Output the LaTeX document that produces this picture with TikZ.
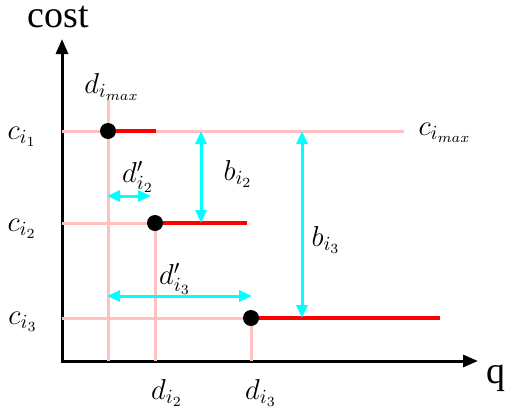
\documentclass[tikz,border=0pt]{standalone}
\usepackage{fontspec}
\newfontfamily\axisfont{Liberation Serif}
\usetikzlibrary{arrows.meta}
\definecolor{aqua}{RGB}{0,255,255}
\definecolor{guidepink}{RGB}{255,192,192}
\definecolor{stepred}{RGB}{255,0,0}

\begin{document}
\begin{tikzpicture}[
    x=0.5pt, y=-0.5pt,
    >={Triangle[length=6.5pt, width=5.5pt]},
    every node/.style={font=\Large}
]

\tikzset{
    axisline/.style={line width=1.5pt, <->, >={Triangle[length=7.5pt, width=6pt]}, line join=miter},
    guideline/.style={draw=guidepink, line width=1.5pt},
    stepline/.style={draw=stepred, line width=1.7pt},
    gaparrow/.style={draw=aqua, fill=aqua, line width=1.5pt, <->},
    breakdot/.style={circle, fill=black, inner sep=0pt, minimum size=8pt},
    axislabel/.style={font=\axisfont\fontsize{19}{22}\selectfont}
}

\useasboundingbox (0,0) rectangle (507,412);

% axes
\coordinate (origin) at (62,361);
\coordinate (ytip) at (62,39);
\coordinate (xtip) at (478,361);
\draw [axisline] (ytip) -- (origin) -- (xtip);
\node [axislabel] (costlbl) at (58,17) {cost};
\node [axislabel] (qlbl) at (496,378) {q};

% break points
\coordinate (k1) at (108,131);
\coordinate (k2) at (155,223);
\coordinate (k3) at (251,318);

% guide lines
\coordinate (c1left) at (62,131);
\coordinate (c1right) at (404,131);
\coordinate (c2left) at (62,223);
\coordinate (c3left) at (62,318);
\coordinate (v1top) at (108,100);
\coordinate (v1bot) at (108,361);
\coordinate (v2bot) at (155,361);
\coordinate (v3bot) at (251,361);
\draw [guideline] (c1left) -- (c1right);
\draw [guideline] (c2left) -- (k2);
\draw [guideline] (c3left) -- (k3);
\draw [guideline] (v1top) -- (v1bot);
\draw [guideline] (k2) -- (v2bot);
\draw [guideline] (k3) -- (v3bot);

% cost steps
\coordinate (s1end) at (156,131);
\coordinate (s2end) at (247,223);
\coordinate (s3end) at (440,318);
\draw [stepline] (k1) -- (s1end);
\draw [stepline] (k2) -- (s2end);
\draw [stepline] (k3) -- (s3end);

\node [breakdot] (dot1) at (k1) {};
\node [breakdot] (dot2) at (k2) {};
\node [breakdot] (dot3) at (k3) {};

% gaps
\coordinate (b2top) at (201,131);
\coordinate (b2bot) at (201,223);
\coordinate (b3top) at (302,131);
\coordinate (b3bot) at (302,318);
\coordinate (d2left) at (107,196);
\coordinate (d2right) at (151,196);
\coordinate (d3left) at (107,296);
\coordinate (d3right) at (252,296);
\draw [gaparrow] (b2top) -- (b2bot);
\draw [gaparrow] (b3top) -- (b3bot);
\draw [gaparrow] (d2left) -- (d2right);
\draw [gaparrow] (d3left) -- (d3right);

% labels
\node (c1lbl) at (22,137) {$c_{i_1}$};
\node (c2lbl) at (22,229) {$c_{i_2}$};
\node (c3lbl) at (23,322) {$c_{i_3}$};
\node (cmaxlbl) at (445,133) {$c_{i_{max}}$};
\node (dmaxlbl) at (112,87) {$d_{i_{max}}$};
\node (d2lbl) at (167,393) {$d_{i_2}$};
\node (d3lbl) at (261,393) {$d_{i_3}$};
\node (dp2lbl) at (138,177) {$d'_{i_2}$};
\node (dp3lbl) at (175,279) {$d'_{i_3}$};
\node (b2lbl) at (238,174) {$b_{i_2}$};
\node (b3lbl) at (326,240) {$b_{i_3}$};

\end{tikzpicture}
\end{document}
